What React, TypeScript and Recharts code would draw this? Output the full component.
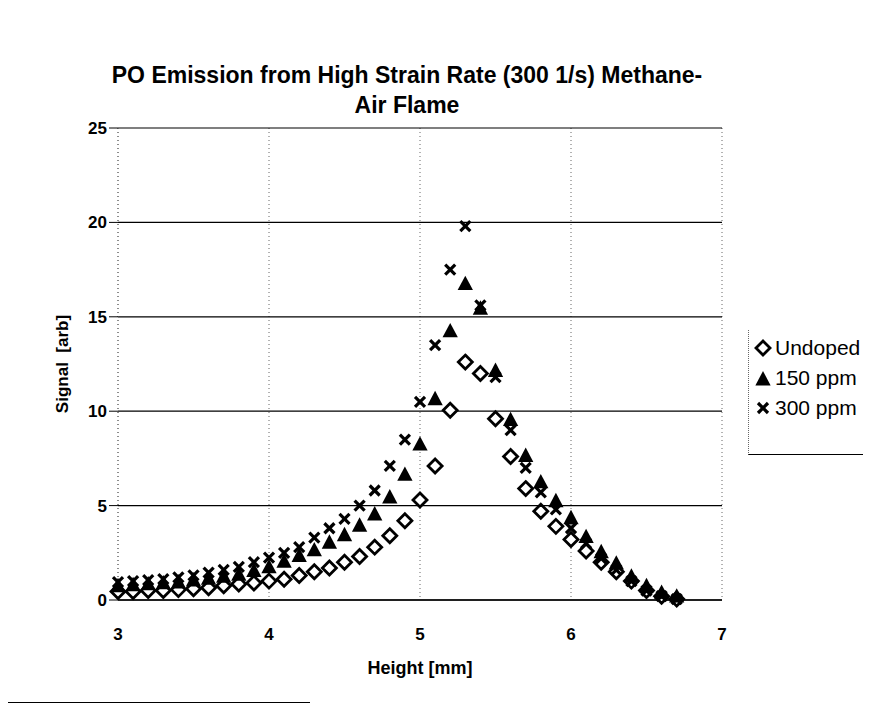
import React from 'react';
import { ScatterChart, Scatter, XAxis, YAxis, CartesianGrid } from 'recharts';

// Height [mm], sampled every 0.1 mm
const heights = [
  3.0, 3.1, 3.2, 3.3, 3.4, 3.5, 3.6, 3.7, 3.8, 3.9,
  4.0, 4.1, 4.2, 4.3, 4.4, 4.5, 4.6, 4.7, 4.8, 4.9,
  5.0, 5.1, 5.2, 5.3, 5.4, 5.5, 5.6, 5.7, 5.8, 5.9,
  6.0, 6.1, 6.2, 6.3, 6.4, 6.5, 6.6, 6.7,
];

const undoped = [
  0.45, 0.45, 0.5, 0.5, 0.55, 0.6, 0.65, 0.75, 0.85, 0.9,
  1.0, 1.1, 1.3, 1.5, 1.7, 2.0, 2.3, 2.8, 3.4, 4.2,
  5.3, 7.1, 10.05, 12.6, 12.0, 9.6, 7.6, 5.9, 4.7, 3.9,
  3.2, 2.6, 2.0, 1.5, 1.0, 0.5, 0.2, 0.05,
];

const ppm150 = [
  0.7, 0.75, 0.8, 0.85, 0.9, 1.0, 1.1, 1.2, 1.3, 1.5,
  1.7, 2.0, 2.3, 2.6, 3.0, 3.4, 3.9, 4.5, 5.4, 6.6,
  8.2, 10.6, 14.2, 16.7, 15.4, 12.1, 9.5, 7.6, 6.2, 5.2,
  4.3, 3.3, 2.5, 1.9, 1.2, 0.7, 0.35, 0.15,
];

const ppm300 = [
  0.95, 1.0, 1.05, 1.1, 1.2, 1.3, 1.45, 1.6, 1.75, 2.0,
  2.25, 2.5, 2.8, 3.3, 3.8, 4.3, 5.0, 5.8, 7.1, 8.5,
  10.5, 13.5, 17.5, 19.8, 15.6, 11.8, 9.0, 7.0, 5.7, 4.8,
  3.8, 3.0, 2.2, 1.6, 1.0, 0.5, 0.2, 0.05,
];

const xTicks = [3, 4, 5, 6, 7];
const yTicks = [0, 5, 10, 15, 20, 25];

const toPoints = (vals: number[]) => heights.map((h, i) => ({ x: h, y: vals[i] }));

const FONT = '"Liberation Sans", Arial, sans-serif';

const Diamond = (props: any) => {
  const { cx, cy } = props;
  const r = 7;
  return (
    <polygon
      points={`${cx},${cy - r} ${cx + r},${cy} ${cx},${cy + r} ${cx - r},${cy}`}
      fill="#fff"
      stroke="#000"
      strokeWidth={2.8}
    />
  );
};

const Triangle = (props: any) => {
  const { cx, cy } = props;
  const r = 9;
  return (
    <polygon
      points={`${cx},${cy - r} ${cx + r * 0.85},${cy + r * 0.6} ${cx - r * 0.85},${cy + r * 0.6}`}
      fill="#000"
    />
  );
};

const Cross = (props: any) => {
  const { cx, cy } = props;
  const r = 5;
  return (
    <g stroke="#000" strokeWidth={3.2}>
      <line x1={cx - r} y1={cy - r} x2={cx + r} y2={cy + r} />
      <line x1={cx - r} y1={cy + r} x2={cx + r} y2={cy - r} />
    </g>
  );
};

const tickStyle = { fontSize: 17, fontWeight: 700, fill: '#000', fontFamily: FONT };

export default function App() {
  return (
    <div style={{ position: 'relative', width: 871, height: 711, margin: -8, background: '#fff', fontFamily: FONT }}>
      <div style={{ position: 'absolute', left: 0, width: 814, top: 60, textAlign: 'center', fontSize: 23, fontWeight: 700, lineHeight: '30px' }}>
        PO Emission from High Strain Rate (300 1/s) Methane-
        <br />
        Air Flame
      </div>

      <ScatterChart width={871} height={711} margin={{ top: 128, right: 149, bottom: 81, left: 58 }}>
        <CartesianGrid horizontal={false} vertical stroke="#666" strokeDasharray="1 3" />
        <CartesianGrid horizontal vertical={false} stroke="#000" strokeWidth={1.2} />
        <XAxis
          type="number"
          dataKey="x"
          domain={[3, 7]}
          ticks={xTicks}
          tickLine={false}
          axisLine={{ stroke: '#000', strokeWidth: 1.5 }}
          tick={tickStyle}
          tickMargin={22}
          label={{ value: 'Height [mm]', position: 'insideBottom', offset: -44, style: { ...tickStyle, fontSize: 18 } }}
        />
        <YAxis
          type="number"
          dataKey="y"
          domain={[0, 25]}
          ticks={yTicks}
          tickSize={9}
          tickLine={{ stroke: '#000' }}
          axisLine={{ stroke: '#666', strokeDasharray: '1 3' }}
          tick={tickStyle}
          width={60}
          label={{ value: 'Signal\u00a0\u00a0[arb]', angle: -90, position: 'insideLeft', offset: 4, style: { ...tickStyle, fontSize: 17, textAnchor: 'middle' } }}
        />
        <Scatter data={toPoints(undoped)} shape={<Diamond />} isAnimationActive={false} />
        <Scatter data={toPoints(ppm150)} shape={<Triangle />} isAnimationActive={false} />
        <Scatter data={toPoints(ppm300)} shape={<Cross />} isAnimationActive={false} />
      </ScatterChart>

      {/* legend */}
      <div style={{ position: 'absolute', left: 748, top: 330, width: 123, height: 124, borderLeft: '1px dotted #666', borderBottom: '1.5px solid #000', fontSize: 21 }}>
        {[
          { name: 'Undoped', shape: <Diamond cx={10} cy={10} /> },
          { name: '150 ppm', shape: <Triangle cx={10} cy={12} /> },
          { name: '300 ppm', shape: <Cross cx={10} cy={10} /> },
        ].map((it, i) => (
          <div key={it.name} style={{ position: 'absolute', left: 4, top: 5 + i * 30, display: 'flex', alignItems: 'center', height: 26 }}>
            <svg width={20} height={20} style={{ marginRight: 2 }}>{it.shape}</svg>
            <span>{it.name}</span>
          </div>
        ))}
      </div>

      <div style={{ position: 'absolute', left: 0, top: 702, width: 310, borderTop: '1.5px solid #000' }} />
    </div>
  );
}
